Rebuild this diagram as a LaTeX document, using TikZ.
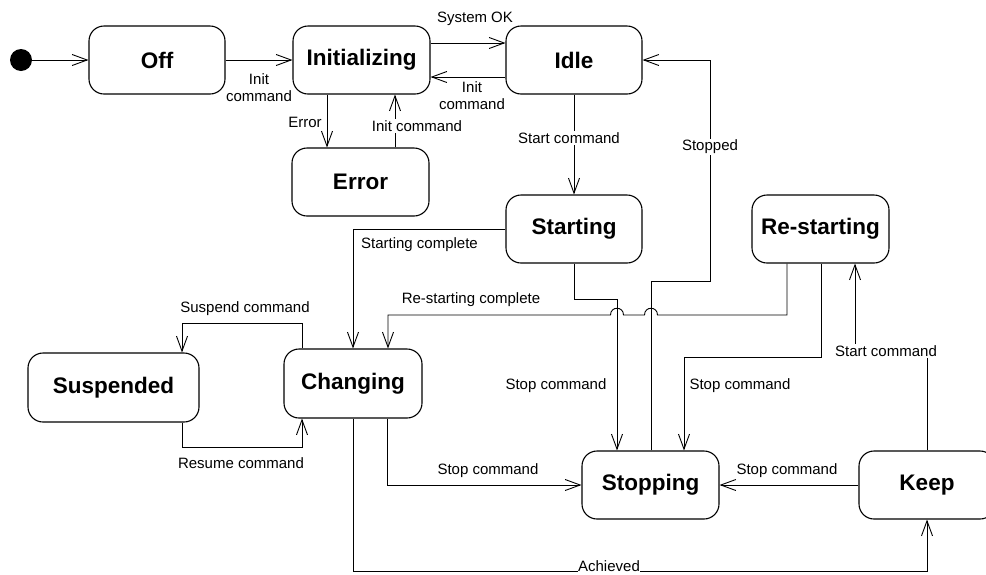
\documentclass[tikz,border=0pt]{standalone}
\usepackage{fontspec}
\setmainfont{Liberation Sans}
\usetikzlibrary{arrows.meta}
\begin{document}
\begin{tikzpicture}[x=1pt,y=-1pt,
  state/.style={draw, line width=1.1pt, rounded corners=15pt, inner sep=0pt,
    font=\fontsize{22.5}{26}\selectfont\bfseries, minimum height=68pt, minimum width=136pt},
  conn/.style={draw, line width=0.9pt, -{Straight Barb[length=15pt,width=11pt,line width=0.9pt]}},
  lbl/.style={font=\fontsize{15}{17}\selectfont, inner sep=1pt, align=center},
  cov/.style={lbl, fill=white}]
\useasboundingbox (0,0) rectangle (986,574);
\clip (0,0) rectangle (986,574);

% states
\node[fill, circle, inner sep=0pt, minimum size=22pt] (init) at (21,60) {};
\node[state] (off) at (157,60) {Off};
\node[state, minimum width=137pt] (inz) at (361.5,60) {Initializing};
\node[state] (idle) at (574,60) {Idle};
\node[state, minimum width=137pt] (err) at (360.5,182) {Error};
\node[state] (start) at (574,229) {Starting};
\node[state, minimum width=137pt] (restart) at (820.5,229) {Re-starting};
\node[state, minimum width=171pt, minimum height=69pt] (susp) at (113.5,387.5) {Suspended};
\node[state, minimum width=138pt, minimum height=69pt] (chg) at (353,383.5) {Changing};
\node[state, minimum width=137pt] (stop) at (650.5,485) {Stopping};
\node[state] (keep) at (927,485) {Keep};

% transitions
\draw[conn] (init) -- (off);
\draw[conn] (off) -- (inz) node[lbl] at (259,88) {Init\\command};
\draw[conn] (inz.east |- 0,43) -- (idle.west |- 0,43) node[lbl] at (475,19) {System OK};
\draw[conn] (idle.west |- 0,77) -- (inz.east |- 0,77) node[lbl] at (472,96) {Init\\command};
\draw[conn] (inz.south -| 327,0) -- (err.north -| 327,0) node[lbl] at (305,122) {Error};
\draw[conn] (err.north -| 395,0) -- (inz.south -| 395,0) node[cov] at (417,126) {Init command};
\draw[conn] (idle) -- (start) node[cov] at (569,138) {Start command};
\draw[conn] (stop.north -| 651,0) |- (710,281) |- (idle.east) node[cov] at (710,147) {Stopped};
\draw[conn] (start.west) -| (chg.north) node[lbl] at (419.5,245) {Starting complete};
\draw[conn] (restart.south -| 787,0) -- (787,315) -- (657.5,315)
  .. controls (657.5,306) and (644.5,306) .. (644.5,315) -- (623.5,315)
  .. controls (623.5,306) and (610.5,306) .. (610.5,315) -- (388,315)
  -- (chg.north -| 388,0) node[lbl] at (471,300) {Re-starting complete};
\draw[conn] (start.south) |- (617,299) -- (stop.north -| 617,0) node[lbl] at (556,386) {Stop command};
\draw[conn] (restart.south -| 821,0) |- (684,357) -- (stop.north -| 684,0) node[lbl] at (740,386) {Stop command};
\draw[conn] (keep.north) |- (855,351) -- (restart.south -| 855,0) node[cov] at (886,351) {Start command};
\draw[conn] (chg.north -| 302,0) |- (182,323) -- (susp.north -| 182,0) node[lbl] at (245,309) {Suspend command};
\draw[conn] (susp.south -| 182,0) |- (302,447) -- (chg.south -| 302,0) node[lbl] at (241,463) {Resume command};
\draw[conn] (chg.south -| 387,0) |- (stop.west) node[lbl] at (488,471) {Stop command};
\draw[conn] (chg.south) |- (927,571) -- (keep.south) node[cov, inner sep=0.5pt] at (609,566.5) {Achieved};
\draw[conn] (keep.west) -- (stop.east) node[lbl] at (787,471) {Stop command};
\end{tikzpicture}
\end{document}
